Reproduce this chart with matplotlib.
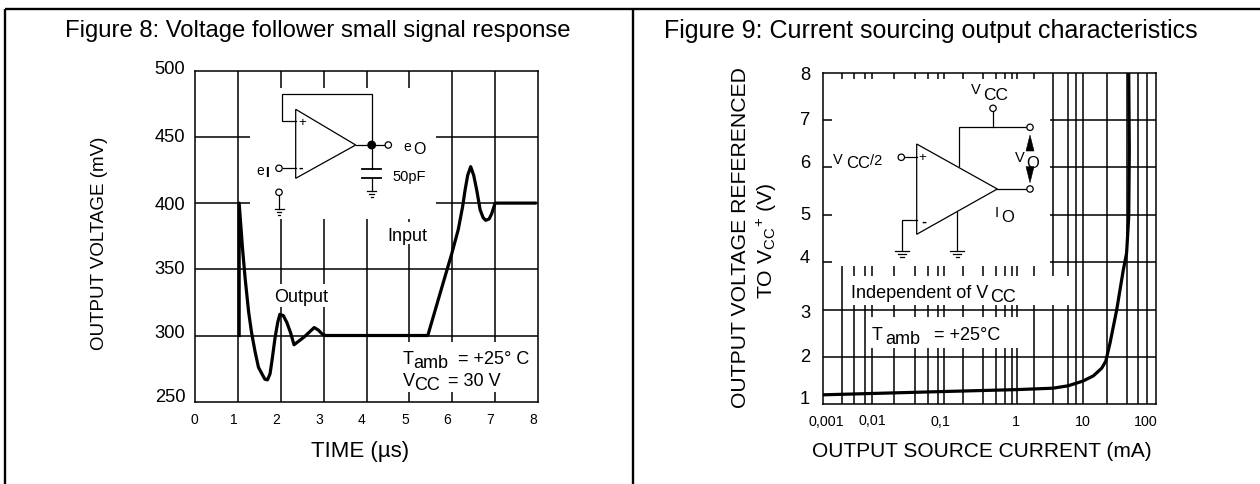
import numpy as np
import matplotlib
matplotlib.use("Agg")
import matplotlib.pyplot as plt
from matplotlib.patches import Polygon, Rectangle, Circle
from matplotlib.transforms import ScaledTranslation

plt.rcParams['font.family'] = ['Liberation Sans', 'DejaVu Sans']
plt.rcParams['mathtext.fontset'] = 'custom'
plt.rcParams['mathtext.rm'] = 'Liberation Sans'
plt.rcParams['mathtext.default'] = 'rm'

W, H = 1260, 484

# Figure 8 data
time_us = [1.03, 1.03, 1.11, 1.17, 1.25, 1.32, 1.40, 1.48, 1.57, 1.63, 1.69, 1.75, 1.80, 1.87, 1.93, 1.98,
           2.06, 2.14, 2.23, 2.31, 2.55, 2.78, 2.88, 2.97, 3.05, 5.43, 5.7, 5.99, 6.14, 6.24, 6.3, 6.36, 6.43,
           6.5, 6.57, 6.65, 6.72, 6.78, 6.86, 6.92, 7.0, 7.93]
output_mv = [300, 400, 365, 343, 318, 302, 288, 276, 270.5, 267, 266.5, 271, 282, 299, 310, 316,
             315, 310, 302, 293, 299, 306, 304, 301, 300, 300, 330, 362, 380, 397, 410, 421, 427.5,
             421, 410, 395, 389, 387, 388, 392, 400, 400]
left_xticks = [0, 1, 2, 3, 4, 5, 6, 7, 8]
left_yticks = [250, 300, 350, 400, 450, 500]

# Figure 9 data
current_ma = [0.0021, 0.1064, 1.117, 3.6, 5.86, 9.5, 13.3, 17.4, 19.9, 22.8, 28.3, 35, 39, 41.8, 42.6, 41.8]
volts = [1.20, 1.27, 1.31, 1.34, 1.39, 1.49, 1.60, 1.76, 1.91, 2.29, 2.99, 3.83, 4.19, 4.96, 6.37, 8.0]
right_xticks = [0.0021, 0.0103, 0.1064, 1.117, 9.5, 100]
right_xlabels = ['0,001', '0,01', '0,1', '1', '10', '100']
right_yticks = [1, 2, 3, 4, 5, 6, 7, 8]
right_xgrid = [0.00393, 0.00579, 0.00826, 0.0103, 0.0211, 0.0416, 0.0634, 0.0875, 0.1064, 0.1947, 0.375,
               0.566, 0.764, 0.95, 1.117, 1.95, 3.6, 5.86, 7.6, 9.5, 20.5, 39, 56, 75.5]

LINE = 1.1
CURVE = 2.3


def make_axes(x0, y0, x1, y1):
    ax = fig.add_axes([x0 / W, 1 - y1 / H, (x1 - x0) / W, (y1 - y0) / H])
    for s in ax.spines.values():
        s.set_linewidth(LINE)
    ax.tick_params(length=0)
    return ax


def shift_labels(labels, dx, dy):
    # the printed tick labels do not sit exactly on their lines
    for lab, a, b in zip(labels, dx, dy):
        off = ScaledTranslation(a / 100, -b / 100, fig.dpi_scale_trans)
        lab.set_transform(lab.get_transform() + off)


fig = plt.figure(figsize=(W / 100, H / 100), dpi=100)

# left chart
ax1 = make_axes(195, 70.7, 538, 401.7)
ax1.set_xlim(0, 8)
ax1.set_ylim(250, 500)
ax1.vlines(left_xticks[1:-1], 250, 500, color='k', lw=LINE)
ax1.hlines(left_yticks[1:-1], 0, 8, color='k', lw=LINE)
ax1.plot(time_us, output_mv, color='k', lw=CURVE, solid_joinstyle='round', zorder=5)
ax1.set_xticks(left_xticks)
ax1.set_yticks(left_yticks)
ax1.tick_params(axis='x', labelsize=10, pad=8)
ax1.tick_params(axis='y', labelsize=13.2, pad=7)
shift_labels(ax1.get_xticklabels(), [-1, -4.5, -4.5, -4.5, -4.5, -4.5, -5, -5, -5], [0] * 9)
shift_labels(ax1.get_yticklabels(), [0] * 6, [-5.7, -3.8, -2.3, 0, -1, -3.3])

# right chart
ax2 = make_axes(822.7, 72.7, 1155.7, 404.3)
ax2.set_xscale('log')
ax2.set_xlim(0.0021, 100)
ax2.set_ylim(1, 8)
ax2.vlines(right_xgrid, 1, 8, color='k', lw=LINE)
ax2.hlines(right_yticks[1:-1], 0.0021, 100, color='k', lw=LINE)
ax2.plot(current_ma, volts, color='k', lw=CURVE, solid_joinstyle='round', zorder=5)
ax2.set_xticks(right_xticks)
ax2.set_xticklabels(right_xlabels)
ax2.minorticks_off()
ax2.set_yticks(right_yticks)
ax2.tick_params(axis='x', labelsize=10.3, pad=8)
ax2.tick_params(axis='y', labelsize=13.2, pad=9)
shift_labels(ax2.get_xticklabels(), [3.3, 1, -3.3, -1, 0, -10], [0, -1, 0, 0, 0, 0])
shift_labels(ax2.get_yticklabels(), [0] * 8, [-7, -1.5, 2, -5.7, -1.3, -6, -1.3, 1.3])

# overlay in pixel coordinates for frame, white masks, schematics and notes
ov = fig.add_axes([0, 0, 1, 1], zorder=10)
ov.set_xlim(0, W)
ov.set_ylim(H, 0)
ov.axis('off')
ov.patch.set_visible(False)

for x0, y0, x1, y1 in [(250, 88, 436, 219), (394, 222, 428, 244), (273, 284, 331, 307), (400, 342, 535, 392),
                       (832, 79, 1050, 266), (843.3, 275.7, 1075, 305), (866, 316.7, 1030, 348)]:
    ov.add_patch(Rectangle((x0, y0), x1 - x0, y1 - y0, fc='white', ec='none', zorder=1))

for xs, ys in [([4.7, 4.7], [9.3, H]), ([4.7, W], [9.3, 9.3]), ([632.8, 632.8], [9.3, H])]:
    ov.plot(xs, ys, color='k', lw=1.7, solid_capstyle='butt', zorder=2)


def wire(pts, lw=0.9):
    ov.plot([p[0] for p in pts], [p[1] for p in pts], color='k', lw=lw, zorder=3, solid_joinstyle='miter')


def node(x, y, r=3.2, filled=False):
    ov.add_patch(Circle((x, y), r, fc='k' if filled else 'white', ec='k', lw=0.9, zorder=4))


def ground(x, y, half):
    wire([(x - half, y), (x + half, y)])
    wire([(x - half * 0.55, y + 3), (x + half * 0.55, y + 3)])
    wire([(x - half * 0.25, y + 6), (x + half * 0.25, y + 6)])


def label(x, y, s, size=13, **kw):
    kw.setdefault('ha', 'left')
    kw.setdefault('va', 'center')
    ov.text(x, y, s, fontsize=size, color='k', zorder=6, **kw)


# voltage follower schematic
ov.add_patch(Polygon([(295.7, 109.3), (355.7, 145), (295.7, 178.3)], closed=True, fc='white', ec='k', lw=0.9, zorder=3))
wire([(295.7, 120.7), (282.3, 120.7), (282.3, 94), (371.7, 94), (371.7, 145)])
wire([(355.7, 145), (385, 145)])
node(371.7, 145, 3.8, True)
node(388.3, 145)
wire([(371.7, 145), (371.7, 169)])
wire([(361.7, 169), (381, 169)], 1.3)
wire([(361.7, 177.7), (381, 177.7)], 1.3)
wire([(371.7, 177.7), (371.7, 190.7)])
ground(371.7, 190.7, 4.5)
wire([(282.7, 168), (295.7, 168)])
node(279, 168.3)
node(279, 192.3)
wire([(279, 195.5), (279, 209.3)])
ground(279, 209.3, 4.5)
label(302.7, 123.3, '+', 9.5, ha='center')
label(300.3, 167.3, '-', 10, ha='center', fontweight='bold')
label(256, 171, 'e', 10)
label(265, 173, 'I', 10, fontweight='bold')
label(403.5, 147, 'e', 10)
label(413, 149, 'O', 11.5)
label(392, 176.5, '50pF', 10.5)

# current sourcing schematic
ov.add_patch(Polygon([(916.7, 144), (997.3, 189), (916.7, 234.3)], closed=True, fc='white', ec='k', lw=0.9, zorder=3))
wire([(997.3, 189), (1026.7, 189)])
node(1030, 189)
wire([(958.7, 166), (958.7, 127.3), (1026.7, 127.3)])
node(1030, 127.3)
wire([(993, 127.3), (993, 111.7)])
node(993, 108.3)
wire([(905, 157.3), (916.7, 157.3)])
node(901.3, 157.3)
wire([(916.7, 220.3), (902, 220.3), (902, 250)])
ground(902, 250.7, 7)
wire([(957.3, 211.7), (957.3, 250)])
ground(957.3, 250.7, 7)
ov.add_patch(Polygon([(1030, 135), (1026, 151), (1034, 151)], closed=True, fc='k', ec='k', lw=0.4, zorder=4))
ov.add_patch(Polygon([(1030, 182.7), (1026, 166.7), (1034, 166.7)], closed=True, fc='k', ec='k', lw=0.4, zorder=4))
label(922.7, 158.3, '+', 9.5, ha='center')
label(924.3, 221.3, '-', 10.5, ha='center', fontweight='bold')
label(971, 90.5, 'V', 10.5)
label(983, 95, 'CC', 12.5)
label(833, 160, 'V', 10.5)
label(846, 164, 'CC', 12)
label(870, 161, '/2', 10.5)
label(995, 213, 'I', 10.5)
label(1001, 217.7, 'O', 12)
label(1014.5, 158, 'V', 10.5)
label(1026, 164, 'O', 12)

# notes
label(407, 236.5, 'Input', 13, ha='center')
label(301, 297.5, 'Output', 13, ha='center')
label(402.5, 359, 'T', 13)
label(413, 364, 'amb', 13)
label(458, 359, '= +25° C', 13)
label(402.5, 381, 'V', 13)
label(414, 386, 'CC', 13)
label(448, 381, '= 30 V', 13)
label(851, 293, 'Independent of V', 13)
label(990, 298, 'CC', 13)
label(872, 335, 'T', 13)
label(885, 340, 'amb', 13)
label(934, 335, '= +25°C', 13)

# titles and axis labels
label(318, 31, 'Figure 8: Voltage follower small signal response', 17.2, ha='center')
label(931, 31, 'Figure 9: Current sourcing output characteristics', 18, ha='center')
label(360, 451.7, 'TIME (µs)', 16, ha='center')
label(981.7, 451.7, 'OUTPUT SOURCE CURRENT (mA)', 15, ha='center')
label(100, 243, 'OUTPUT VOLTAGE (mV)', 13.5, ha='center', rotation=90)
label(740, 238, 'OUTPUT VOLTAGE REFERENCED', 15.2, ha='center', rotation=90)
label(767, 241, 'TO V$_{CC}$$^{+}$ (V)', 15.3, ha='center', rotation=90)

fig.savefig('out.png', dpi=100)
